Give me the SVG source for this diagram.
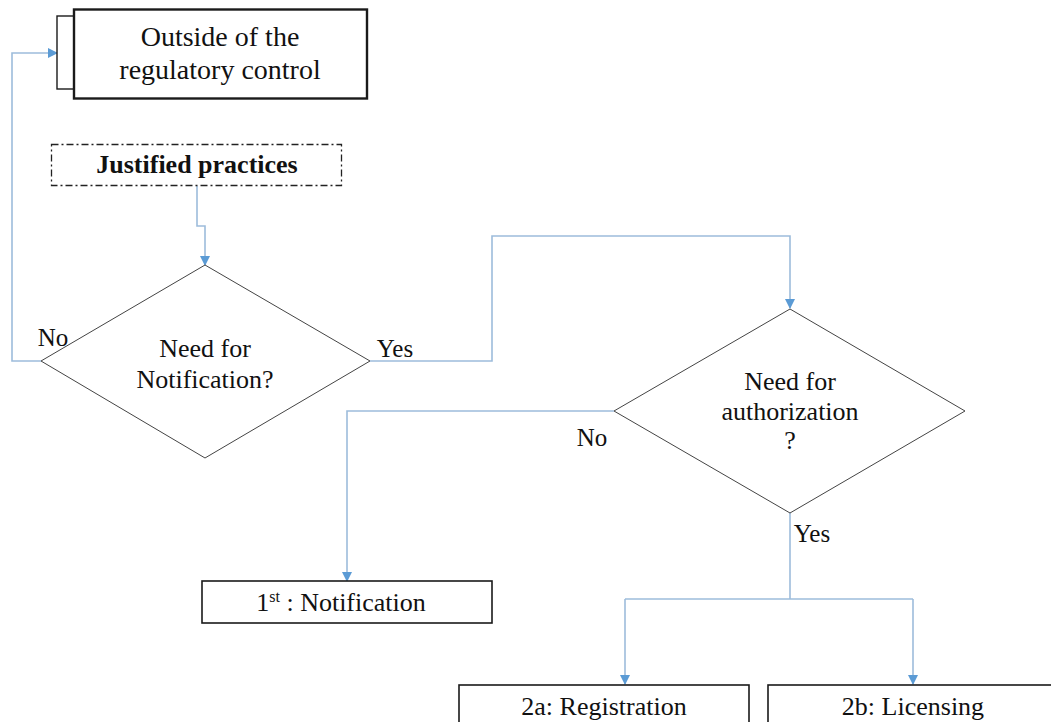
<svg xmlns="http://www.w3.org/2000/svg" width="1051" height="722" viewBox="0 0 1051 722">
<defs>
<marker id="arr" markerWidth="10" markerHeight="10" refX="9" refY="5" orient="auto" markerUnits="userSpaceOnUse">
<path d="M0,0 L10,5 L0,10 Z" fill="#5b9bd5"/>
</marker>
<style>
.t{font-family:"Liberation Serif","DejaVu Serif",serif;font-size:26px;fill:#111;text-anchor:middle}
.box{fill:#fff;stroke:#1a1a1a;stroke-width:1.6}
.dia{fill:#fff;stroke:#444;stroke-width:1}
.c{fill:none;stroke:#9dbcdb;stroke-width:1.6}
.ca{fill:none;stroke:#9dbcdb;stroke-width:1.6;marker-end:url(#arr)}
</style>
</defs>
<rect width="1051" height="722" fill="#fff"/>
<g id="connectors">
<path class="ca" d="M41,361 L12,361 L12,53 L57,53"/>
<path class="ca" d="M197,186 L197,226 L205,226 L205,265"/>
<path class="ca" d="M370,361 L492,361 L492,236 L790,236 L790,308"/>
<path class="ca" d="M614,411 L347,411 L347,581"/>
<path class="c" d="M790,512 L790,599"/>
<path class="c" d="M625,599 L913,599"/>
<path class="ca" d="M625,599 L625,684"/>
<path class="ca" d="M913,599 L913,684"/>
</g>
<g id="outside">
<rect x="57" y="16" width="17" height="73" class="box" style="stroke-width:1.4"/>
<rect x="74" y="9.5" width="293" height="89" class="box" style="stroke-width:2.4"/>
<text class="t" x="220" y="46" style="font-size:28px">Outside of the</text>
<text class="t" x="220" y="79" style="font-size:28px">regulatory control</text>
</g>
<g id="justified">
<rect x="51.5" y="144.5" width="290" height="41" fill="#fff" stroke="#222" stroke-width="1.3" stroke-dasharray="7,3,2,3"/>
<text class="t" x="197" y="173" font-weight="bold">Justified practices</text>
</g>
<g id="notif-decision">
<polygon class="dia" points="205,265 370,361 205,458 41,361"/>
<text class="t" x="205" y="357">Need for</text>
<text class="t" x="205" y="388">Notification?</text>
</g>
<g id="auth-decision">
<polygon class="dia" points="790,309 965,411 790,513 614,411"/>
<text class="t" x="790" y="390">Need for</text>
<text class="t" x="790" y="420">authorization</text>
<text class="t" x="790" y="449">?</text>
</g>
<g id="labels">
<text class="t" x="53" y="346" style="font-size:25px">No</text>
<text class="t" x="395" y="357" style="font-size:25px">Yes</text>
<text class="t" x="592" y="446" style="font-size:25px">No</text>
<text class="t" x="812" y="542" style="font-size:25px">Yes</text>
</g>
<g id="notification">
<rect x="202" y="581" width="290" height="42" class="box"/>
<text class="t" x="341" y="611">1<tspan style="font-size:16px" dy="-9">st</tspan><tspan dy="9"> : Notification</tspan></text>
</g>
<g id="registration">
<rect x="459" y="685" width="290" height="50" class="box"/>
<text class="t" x="604" y="715">2a: Registration</text>
</g>
<g id="licensing">
<rect x="768" y="685" width="300" height="50" class="box"/>
<text class="t" x="913" y="715">2b: Licensing</text>
</g>
</svg>
